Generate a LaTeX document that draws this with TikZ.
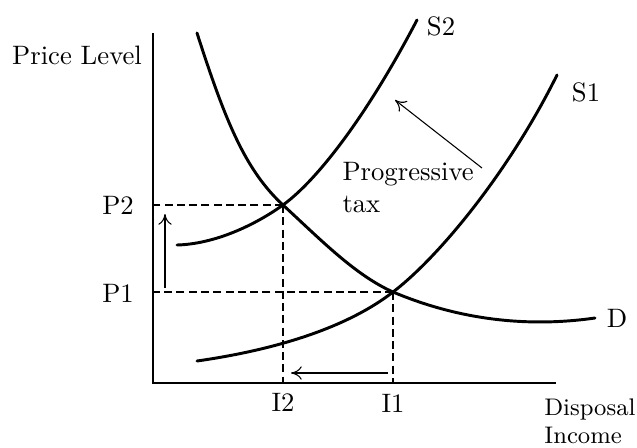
\documentclass[tikz,border=0pt]{standalone}
\usepackage{tikz}
\usetikzlibrary{arrows.meta,positioning,calc}

\begin{document}
\begin{tikzpicture}[x=0.375pt, y=-0.375pt,
    axis/.style={line width=1.1pt},
    curve/.style={line width=1.1pt, line cap=round},
    guide/.style={line width=0.55pt, dash pattern=on 3pt off 1.6pt},
    shiftarrow/.style={line width=0.4pt, -{To[length=4pt, width=5pt]}}]
    \useasboundingbox (0,0) rectangle (637,447);

    % 坐标轴
    \coordinate (O) at (153,383);
    \coordinate (ytop) at (153,33);
    \coordinate (xend) at (556,383);
    \draw[axis] (ytop) -- (O) -- (xend);
    \node (ylab) at (77,55) {Price Level};
    \node[anchor=north east, align=left, inner sep=0pt, font=\fontsize{9}{10.5}\selectfont] (xlab) at (636,398) {Disposal\\Income};

    % 均衡点与虚线
    \coordinate (E2) at (283,205);
    \coordinate (E1) at (393,292);
    \draw[guide] (E2) -- (E2 -| O);
    \draw[guide] (E1) -- (E1 -| O);
    \draw[guide] (E2) -- (E2 |- O);
    \draw[guide] (E1) -- (E1 |- O);
    \node (P2) at (118,205) {P2};
    \node (P1) at (118,293) {P1};
    \node (I2) at (283,402) {I2};
    \node (I1) at (393,403) {I1};

    % 需求曲线 D
    \draw[curve] (197,33) .. controls (225,120) and (245,170) .. (E2)
        .. controls (321,240) and (355,275) .. (E1)
        .. controls (450,316) and (518,329) .. (595,318);
    \node (D) at (617,318) {D};

    % 供给曲线 S1, S2
    \draw[curve] (197,361) .. controls (260,352) and (340,333) .. (E1)
        .. controls (440,256) and (510,170) .. (557,75);
    \node (S1) at (586,92) {S1};
    \draw[curve] (177,245) .. controls (215,244) and (255,225) .. (E2)
        .. controls (320,178) and (370,110) .. (417,20);
    \node (S2) at (441,26) {S2};

    % 移动箭头
    \node[anchor=north west, align=left, inner sep=0pt] (tax) at (342,162) {Progressive\\tax};
    \coordinate (taxtip) at (395,100);
    \coordinate (taxtail) at (482,168);
    \draw[shiftarrow] (taxtail) -- (taxtip);
    \coordinate (upfrom) at (165,288);
    \coordinate (upto) at (165,214);
    \draw[shiftarrow] (upfrom) -- (upto);
    \coordinate (leftfrom) at (388,373);
    \coordinate (leftto) at (291,373);
    \draw[shiftarrow] (leftfrom) -- (leftto);
\end{tikzpicture}
\end{document}
